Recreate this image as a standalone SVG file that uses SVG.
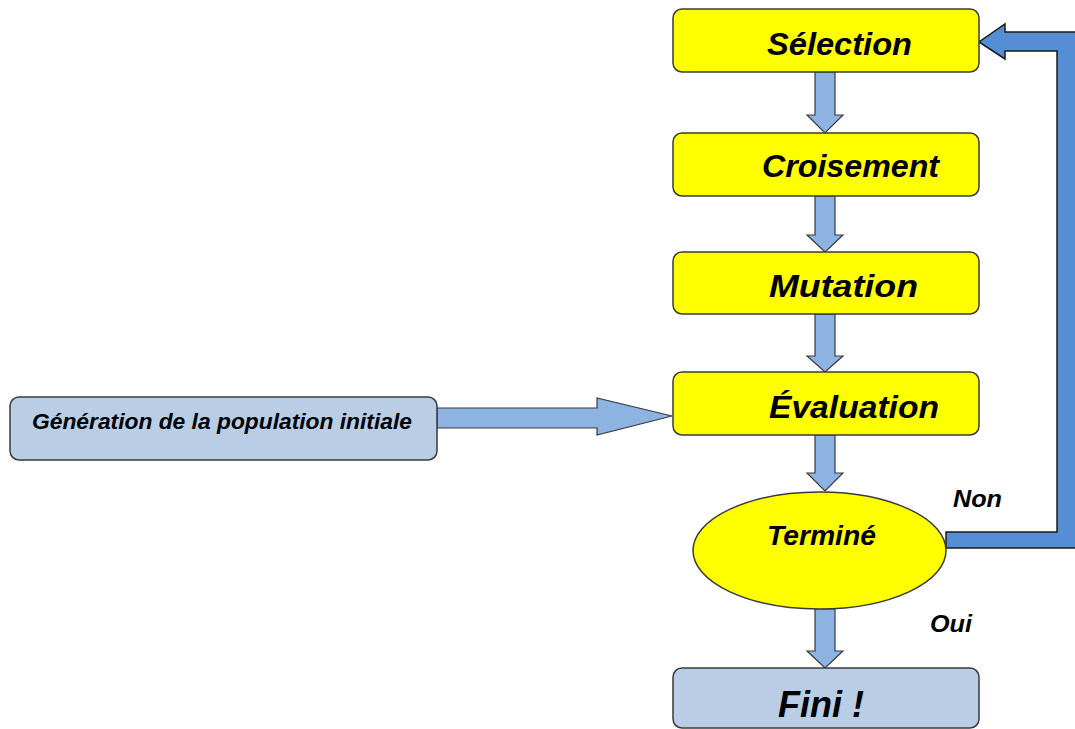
<svg xmlns="http://www.w3.org/2000/svg" width="1075" height="729" viewBox="0 0 1075 729">
<style>
.step{fill:#FFFF00;stroke:#3a3a3a;stroke-width:1.5}
.blue{fill:#B9CDE5;stroke:#3a3a3a;stroke-width:1.5}
.arr{fill:#8DB3E2;stroke:#3a3a3a;stroke-width:1.2}
.loop{fill:#558ED5;stroke:#1a1a1a;stroke-width:1.5}
text{font-family:"Liberation Sans",Arial,sans-serif;font-weight:bold;font-style:italic;fill:#000}
</style>
<rect width="1075" height="729" fill="#fff"/>
<g id="connectors">
<polygon class="arr" points="815,72 835,72 835,115 843,115 825,133 807,115 815,115"/>
<polygon class="arr" points="815,196 835,196 835,235 843,235 825,252 807,235 815,235"/>
<polygon class="arr" points="815,314 835,314 835,356 843,356 825,372 807,356 815,356"/>
<polygon class="arr" points="815,435 835,435 835,473 843,473 825,491 807,473 815,473"/>
<polygon class="arr" points="815,609 835,609 835,651 843,651 825,668 807,651 815,651"/>
<polygon class="arr" points="437,408 597,408 597,398 672,416 597,435 597,428 437,428"/>
<polygon class="loop" points="946,532 1057,532 1057,51 1005,51 1005,59 979,42 1005,24 1005,32 1090,32 1090,548 946,548"/>
<text x="953" y="507" font-size="24" textLength="49" lengthAdjust="spacingAndGlyphs">Non</text>
<text x="930" y="632" font-size="24" textLength="42" lengthAdjust="spacingAndGlyphs">Oui</text>
</g>
<g id="selection">
<rect class="step" x="673" y="9" width="306" height="63" rx="9"/>
<text x="767" y="55" font-size="32" textLength="145" lengthAdjust="spacingAndGlyphs">Sélection</text>
</g>
<g id="croisement">
<rect class="step" x="673" y="133" width="306" height="63" rx="9"/>
<text x="762" y="177" font-size="32" textLength="177" lengthAdjust="spacingAndGlyphs">Croisement</text>
</g>
<g id="mutation">
<rect class="step" x="673" y="252" width="306" height="62" rx="9"/>
<text x="769" y="297" font-size="32" textLength="149" lengthAdjust="spacingAndGlyphs">Mutation</text>
</g>
<g id="evaluation">
<rect class="step" x="673" y="372" width="306" height="63" rx="9"/>
<text x="769" y="418" font-size="32" textLength="170" lengthAdjust="spacingAndGlyphs">Évaluation</text>
</g>
<g id="termine">
<ellipse class="step" cx="819.5" cy="550.5" rx="126.5" ry="58.5"/>
<text x="767" y="545" font-size="27" textLength="109" lengthAdjust="spacingAndGlyphs">Terminé</text>
</g>
<g id="fini">
<rect class="blue" x="673" y="668" width="306" height="60" rx="9"/>
<text x="778" y="717" font-size="37" textLength="86" lengthAdjust="spacingAndGlyphs">Fini !</text>
</g>
<g id="generation">
<rect class="blue" x="10" y="397" width="427" height="63" rx="9"/>
<text x="32" y="429" font-size="22" textLength="380" lengthAdjust="spacingAndGlyphs">Génération de la population initiale</text>
</g>
</svg>
